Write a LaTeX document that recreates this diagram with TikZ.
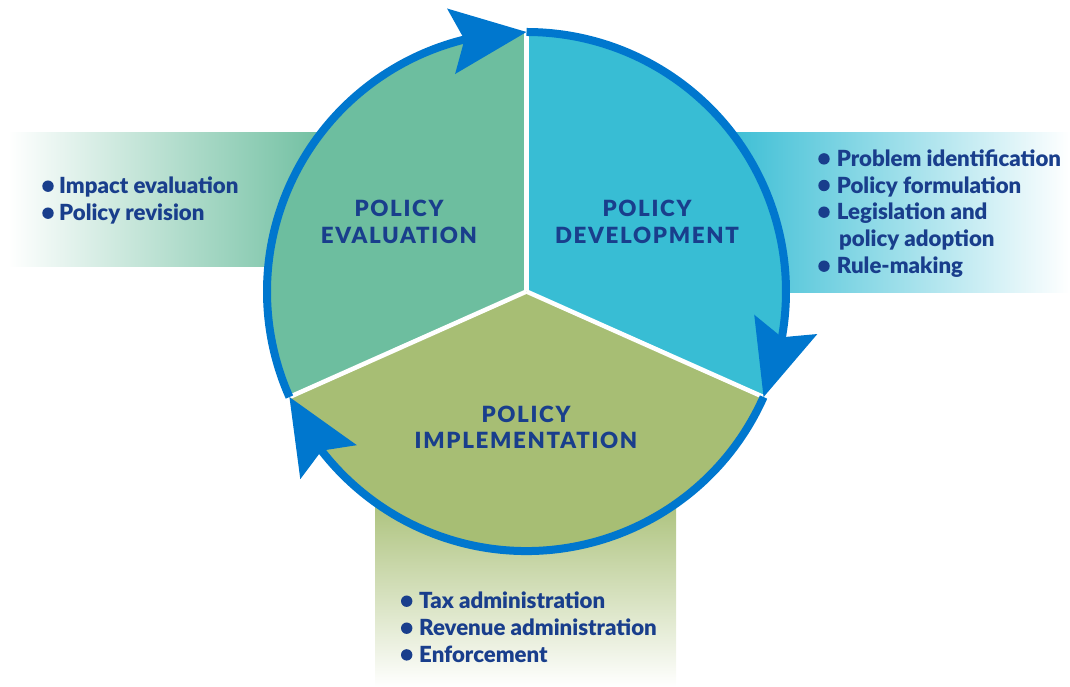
\documentclass[tikz,border=0pt]{standalone}
\usepackage{fontspec}
\setmainfont{Lato}[BoldFont={Lato Black}]
\newfontfamily\ttlfont{Lato}[BoldFont={Lato Black},LetterSpace=7.5]
\usetikzlibrary{calc}
\definecolor{evalc}{RGB}{109,190,159}
\definecolor{devc}{RGB}{56,189,212}
\definecolor{implc}{RGB}{167,190,116}
\definecolor{ringc}{RGB}{0,119,206}
\definecolor{txtc}{RGB}{25,62,140}
\begin{document}
\begin{tikzpicture}[x=1pt,y=1pt,
  ttl/.style={text=txtc, font=\ttlfont\bfseries\fontsize{22.3}{27}\selectfont, anchor=base, inner sep=0pt},
  itm/.style={text=txtc, font=\bfseries\fontsize{22.2}{27}\selectfont, anchor=base west, inner sep=0pt},
  blt/.style={fill=txtc},
  ring/.style={draw=ringc, line width=8pt},
  sep/.style={draw=white, line width=4.5pt}]
\useasboundingbox (0,0) rectangle (1070,687);
\coordinate (C) at (526.5,395.5);
% gradient bands
\shade[left color=white, right color=evalc] (8,420) rectangle (330,554.3);
\shade[left color=devc, right color=white] (722,394.3) rectangle (1070,554.3);
\shade[top color=implc, bottom color=white] (375,0) rectangle (676,197);
% sectors
\fill[devc] (C) -- ($(C)+(90:259.5pt)$) arc[start angle=90,end angle=-24,radius=259.5pt] -- cycle;
\fill[implc] (C) -- ($(C)+(-24:259.5pt)$) arc[start angle=-24,end angle=-156,radius=259.5pt] -- cycle;
\fill[evalc] (C) -- ($(C)+(204:259.5pt)$) arc[start angle=204,end angle=90,radius=259.5pt] -- cycle;
\foreach \a in {90,-24,204} \draw[sep] (C) -- ($(C)+(\a:259.5pt)$);
% ring
\draw[ring] ($(C)+(90:259.5pt)$) arc[start angle=90,end angle=-11,radius=259.5pt];
\draw[ring] ($(C)+(-24:259.5pt)$) arc[start angle=-24,end angle=-143,radius=259.5pt];
\draw[ring] ($(C)+(204:259.5pt)$) arc[start angle=204,end angle=103,radius=259.5pt];
\foreach \t in {90,-24,204}{
  \pgfmathsetmacro\ph{\t-83}
  \coordinate (T) at ($(C)+(\t:259.5pt)$);
  \coordinate (A) at ($(T)+(\ph+180:76pt)$);
  \fill[ringc] (T) -- ($(A)+(\ph+90:33pt)$) -- ($(T)+(\ph+180:62.5pt)$) -- ($(A)+(\ph-90:33pt)$) -- cycle;
}
% titles
\node[ttl] (e1) at (399,470.3) {POLICY};
\node[ttl] (e2) at (399,443.7) {EVALUATION};
\node[ttl] (d1) at (647,470.3) {POLICY};
\node[ttl] (d2) at (647,443.7) {DEVELOPMENT};
\node[ttl] (i1) at (526,264.7) {POLICY};
\node[ttl] (i2) at (526,238.7) {IMPLEMENTATION};
% left list
\node[itm] (l1) at (59,493) {Impact evaluation};
\node[itm] (l2) at (59,466) {Policy revision};
\fill[blt] (48,500.8) circle (5.7pt);
\fill[blt] (48,473.8) circle (5.7pt);
% right list
\node[itm] (r1) at (836.7,520.3) {Problem identification};
\node[itm] (r2) at (836.7,493.7) {Policy formulation};
\node[itm] (r3) at (836.7,467) {Legislation and};
\node[itm] (r4) at (839,440) {policy adoption};
\node[itm] (r5) at (836.7,413) {Rule-making};
\foreach \y in {528.1,501.5,474.8,420.8} \fill[blt] (824,\y) circle (5.7pt);
% bottom list
\node[itm] (b1) at (419,78) {Tax administration};
\node[itm] (b2) at (419,51) {Revenue administration};
\node[itm] (b3) at (419,24.3) {Enforcement};
\foreach \y in {85.8,58.8,32.1} \fill[blt] (406.7,\y) circle (5.7pt);
\end{tikzpicture}
\end{document}
